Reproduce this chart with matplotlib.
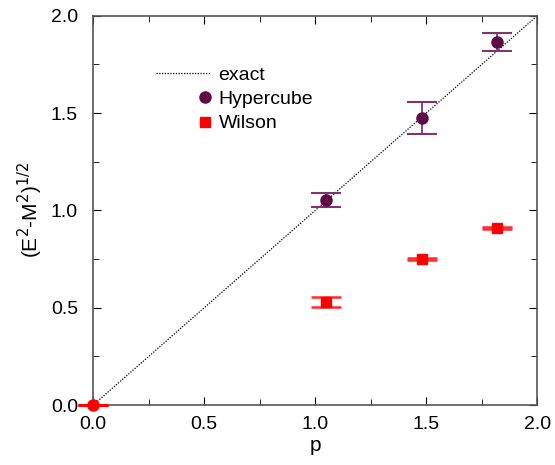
import numpy as np
import matplotlib
matplotlib.use('Agg')
import matplotlib.pyplot as plt
from matplotlib.ticker import MultipleLocator
from matplotlib.lines import Line2D
from matplotlib.legend_handler import HandlerLine2D

plt.rcParams['font.family'] = ['Liberation Sans', 'DejaVu Sans']

# data
p_hyper = [1.05, 1.48, 1.82]
e_hyper = [1.055, 1.475, 1.865]
err_hyper = [0.035, 0.08, 0.045]

p_wilson = [0.0, 1.05, 1.48, 1.82]
e_wilson = [0.0, 0.53, 0.75, 0.91]
err_wilson = [0.0, 0.027, 0.004, 0.004]

p_exact = [0.0, 2.0]

hyper_col = '#5e0a45'
wilson_col = '#ff0000'


class MarkerRight(HandlerLine2D):
    # single marker at the right end of the handle box (gnuplot style key)
    def create_artists(self, legend, orig_handle, xdescent, ydescent,
                       width, height, fontsize, trans):
        x = -xdescent + width - 0.3 * fontsize
        y = (height - ydescent) / 2
        mk = Line2D([x], [y])
        self.update_prop(mk, orig_handle, legend)
        mk.set_transform(trans)
        return [mk]


fig = plt.figure(figsize=(5.55, 4.65), dpi=100)
ax = fig.add_axes([0.168, 0.129, 0.800, 0.837])

ax.plot(p_exact, p_exact, color='k', linestyle=(0, (1, 1.2)), linewidth=0.9)
ax.errorbar(p_hyper, e_hyper, yerr=err_hyper, fmt='o', color=hyper_col,
            ecolor='#83336a', markersize=8, capsize=11, elinewidth=1.3, capthick=1.5,
            zorder=3)
ax.errorbar(p_wilson[1:], e_wilson[1:], yerr=err_wilson[1:], fmt='s', color=wilson_col,
            ecolor='#ff2a2a', markersize=6.5, capsize=11, elinewidth=1.3, capthick=1.8,
            zorder=3)
ax.errorbar(p_wilson[:1], e_wilson[:1], yerr=err_wilson[:1], fmt='o', color=wilson_col,
            markersize=8, capsize=11, capthick=2, clip_on=False, zorder=5)

ax.set_xlim(0, 2)
ax.set_ylim(0, 2)
ax.xaxis.set_major_locator(MultipleLocator(0.5))
ax.xaxis.set_minor_locator(MultipleLocator(0.25))
ax.yaxis.set_major_locator(MultipleLocator(0.5))
ax.yaxis.set_minor_locator(MultipleLocator(0.25))
ax.xaxis.set_major_formatter(plt.FormatStrFormatter('%.1f'))
ax.yaxis.set_major_formatter(plt.FormatStrFormatter('%.1f'))
ax.tick_params(which='both', direction='in', top=True, right=True, labelsize=14)
ax.tick_params(axis='x', which='major', pad=8)
ax.tick_params(axis='y', which='major', pad=11)
ax.tick_params(which='major', length=6)
ax.tick_params(which='minor', length=4)
for s in ax.spines.values():
    s.set_color('#555555')
    s.set_linewidth(1.2)

ax.set_xlabel('p', fontsize=15, labelpad=2)
ax.set_ylabel(r'(E$^2$-M$^2$)$^{1/2}$', fontsize=15, labelpad=4)

h_exact = Line2D([], [], color='k', linestyle=(0, (1, 1.2)), linewidth=0.9)
h_hyper = Line2D([], [], color=hyper_col, marker='o', linestyle='none', markersize=8)
h_wilson = Line2D([], [], color=wilson_col, marker='s', linestyle='none', markersize=6.5)
ax.legend([h_exact, h_hyper, h_wilson], ['exact', 'Hypercube', 'Wilson'],
          loc='upper left', bbox_to_anchor=(0.142, 0.871), frameon=False, fontsize=14,
          handlelength=2.8, handletextpad=0.4, labelspacing=0.35, numpoints=1,
          borderpad=0, borderaxespad=0,
          handler_map={h_hyper: MarkerRight(), h_wilson: MarkerRight()})

fig.savefig('out.png', dpi=100)
